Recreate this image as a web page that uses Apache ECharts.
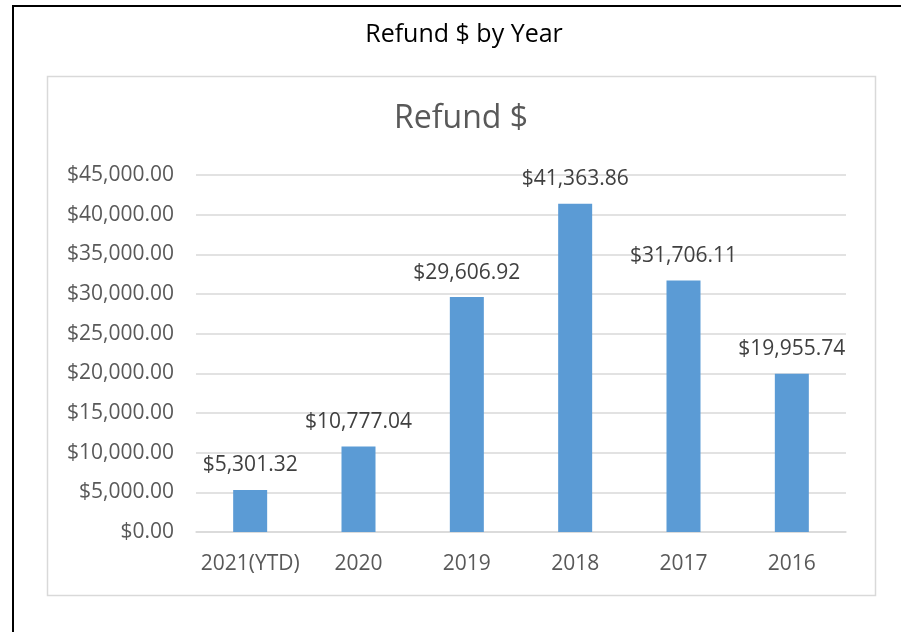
<!DOCTYPE html>
<html>
<head>
<meta charset="utf-8">
<script src="https://cdn.jsdelivr.net/npm/echarts@6/dist/echarts.min.js"></script>
<style>
  html, body { margin: 0; padding: 0; background: #fff; }
  #main { width: 901px; height: 632px; }
</style>
</head>
<body>
<div id="main"></div>
<script>
var years = ['2021(YTD)', '2020', '2019', '2018', '2017', '2016'];
var refunds = [5301.32, 10777.04, 29606.92, 41363.86, 31706.11, 19955.74];
var yMin = 0, yMax = 45000, yStep = 5000;

function money(v) {
    return '$' + Number(v).toLocaleString('en-US', { minimumFractionDigits: 2, maximumFractionDigits: 2 });
}

var font = '"Open Sans", "Noto Sans", sans-serif';
var chart = echarts.init(document.getElementById('main'), null, { renderer: 'canvas' });

var option = {
    backgroundColor: '#fff',
    animation: false,
    graphic: [
        // black frame, cut off at right and bottom like the screenshot
        { type: 'rect', shape: { x: 13, y: 6, width: 920, height: 660 },
          style: { fill: 'none', stroke: '#000', lineWidth: 2 }, z: 10 },
        // light chart-area box
        { type: 'rect', shape: { x: 47.5, y: 76.5, width: 828, height: 519 },
          style: { fill: 'none', stroke: '#d9d9d9', lineWidth: 1.5 } }
    ],
    title: [
        { text: 'Refund $ by Year', left: 459, top: 17, textAlign: 'center',
          textStyle: { fontFamily: font, fontSize: 25, fontWeight: 'normal', color: '#000' } },
        { text: 'Refund $', left: 456, top: 98, textAlign: 'center',
          textStyle: { fontFamily: font, fontSize: 32, fontWeight: 'normal', color: '#595959' } }
    ],
    grid: { left: 196, right: 55, top: 175, bottom: 100, containLabel: false },
    xAxis: {
        type: 'category',
        data: years,
        axisLine: { lineStyle: { color: '#d9d9d9', width: 1.5 } },
        axisTick: { show: false },
        axisLabel: { interval: 0, color: '#595959', fontFamily: font, fontSize: 21, margin: 22 }
    },
    yAxis: {
        type: 'value',
        min: yMin, max: yMax, interval: yStep,
        axisLine: { show: false },
        axisTick: { show: false },
        splitLine: { lineStyle: { color: '#d9d9d9', width: 1.5 } },
        axisLabel: { color: '#595959', fontFamily: font, fontSize: 21, margin: 22, formatter: money }
    },
    series: [{
        type: 'bar',
        data: refunds,
        barWidth: 34,
        itemStyle: { color: '#5b9bd5' },
        label: {
            show: true, position: 'top', distance: 14,
            color: '#404040', fontFamily: font, fontSize: 21,
            formatter: function (p) { return money(p.value); }
        }
    }]
};
chart.setOption(option);
</script>
</body>
</html>
